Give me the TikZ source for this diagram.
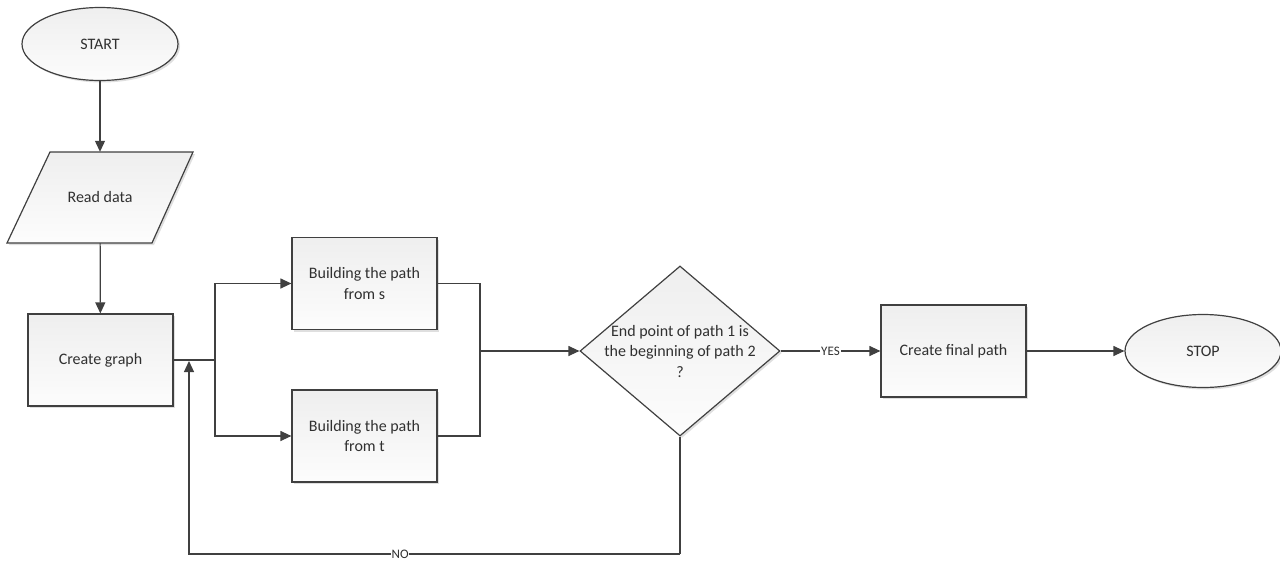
\documentclass[tikz,border=0pt]{standalone}
\usepackage{fontspec}
\setmainfont{Carlito}
\usetikzlibrary{shapes.geometric,arrows.meta,shadows}
\definecolor{linec}{HTML}{404040}
\definecolor{txtc}{HTML}{303030}
\begin{document}
\begin{tikzpicture}[x=1pt,y=-1pt,
  fillst/.style={draw=linec, line width=1.2pt, top color=gray!13, bottom color=gray!2,
    drop shadow={shadow xshift=2pt, shadow yshift=-2pt, opacity=0.25, fill=gray}},
  txt/.style={font=\fontsize{16}{20.5}\selectfont, text=txtc, align=center},
  base/.style={fillst, txt, inner sep=0pt},
  box/.style={base, rectangle, minimum width=145pt, minimum height=92pt},
  term/.style={base, ellipse, minimum width=156pt, minimum height=73pt},
  decision/.style={base, diamond, minimum width=200pt, minimum height=170pt},
  line/.style={draw=linec, line width=1.2pt},
  arr/.style={line, -{Triangle[length=11pt,width=10pt]}},
  lab/.style={fill=white, inner sep=1pt, font=\fontsize{13}{15}\selectfont, text=txtc}]
\useasboundingbox (0,0) rectangle (1280,562);

\node[term] (start) at (100,44) {START};
% parallelogram for input
\path[fillst] (50,152) -- (193,152) -- (152,243) -- (7,243) -- cycle;
\node[txt, inner sep=0pt, minimum width=186pt, minimum height=91pt] (read) at (100,197.5) {Read data};
\node[box] (graph) at (100.5,360) {Create graph};
\node[box] (bs) at (364.5,283.5) {Building the path\\from s};
\node[box] (bt) at (364.5,436) {Building the path\\from t};
\node[decision, label={[txt]center:End point of path 1 is\\the beginning of path 2\\?}] (dec) at (680,351) {};
\node[box] (final) at (953.5,351) {Create final path};
\node[term] (stop) at (1203,351) {STOP};

\coordinate (split) at (215,360);
\coordinate (merge) at (480,351);
\coordinate (loopR) at (680,554);
\coordinate (loopL) at (189,554);
\coordinate (loopT) at (189,361);

\draw[arr] (start) -- (read);
\draw[arr] (read) -- (graph);
\draw[line] (graph.east) -- (split);
\draw[arr] (split) |- (bs.west);
\draw[arr] (split) |- (bt.west);
\draw[line] (bs.east) -| (merge);
\draw[line] (bt.east) -| (merge);
\draw[arr] (merge) -- (dec.west);
\draw[arr] (dec.east) -- node[lab] (yes) {YES} (final.west);
\draw[arr] (final.east) -- (stop.west);
\draw[line] (dec.south) -- (loopR);
\draw[arr] (loopR) -- node[lab, pos=0.57, inner sep=0.5pt] (no) {NO} (loopL) -- (loopT);
\end{tikzpicture}
\end{document}
